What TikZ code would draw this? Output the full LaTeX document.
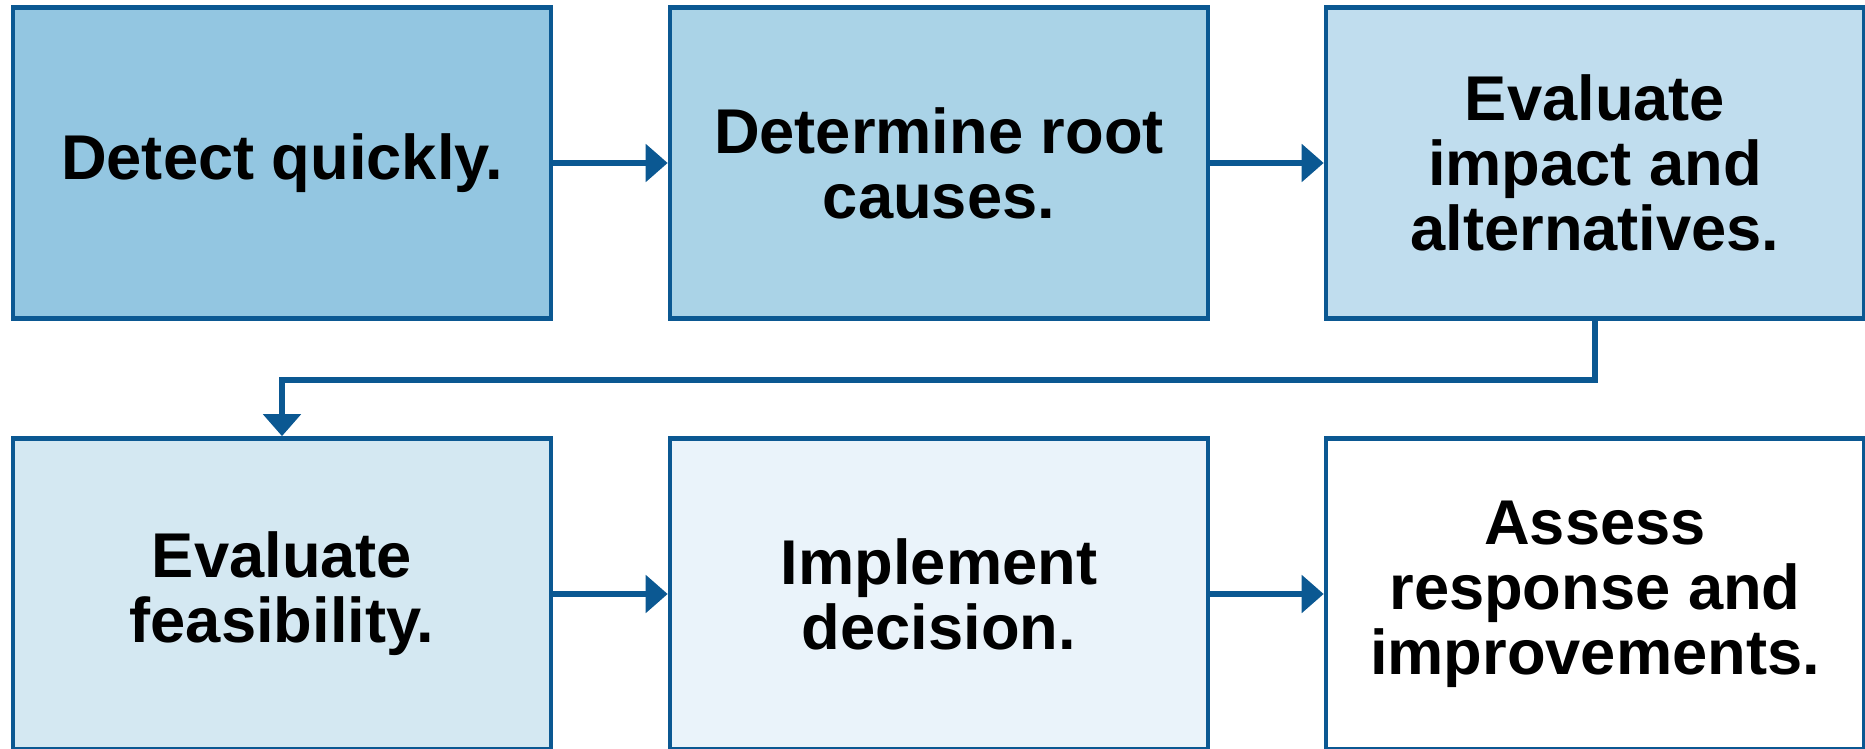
\documentclass[tikz,border=0pt]{standalone}
\usepackage{xcolor}
\usepackage{fontspec}
\setmainfont{Liberation Sans}
\usepackage{tikz}
\usetikzlibrary{arrows.meta, positioning, calc}

\definecolor{edgeblue}{HTML}{0B5892}
\definecolor{fillA}{HTML}{93C6E1}
\definecolor{fillB}{HTML}{AAD3E7}
\definecolor{fillC}{HTML}{C0DDEE}
\definecolor{fillD}{HTML}{D4E8F2}
\definecolor{fillE}{HTML}{EAF3FA}

\begin{document}
\begin{tikzpicture}[x=0.02cm, y=-0.02cm,
  every node/.style={rectangle, draw=edgeblue, line width=2.7pt, minimum width=10.76cm, minimum height=6.22cm, align=center, font=\fontsize{36}{37}\selectfont\bfseries},
  link/.style={-{Triangle[length=12.5pt, width=21pt]}, draw=edgeblue, line width=3.6pt}]
\useasboundingbox (0,0) rectangle (1865,749);
\node[fill=fillA] (detect) at (282,163) {Detect quickly.};
\node[fill=fillB] (cause) at (939,163) {Determine root\\causes.};
\node[fill=fillC] (impact) at (1595,163) {Evaluate\\impact and\\alternatives.};
\node[fill=fillD] (feas) at (282,594) {Evaluate\\feasibility.};
\node[fill=fillE] (impl) at (939,594) {Implement\\decision.};
\node[fill=white] (assess) at (1595,594) {Assess\\response and\\improvements.};

\draw[link] (detect) -- (cause);
\draw[link] (cause) -- (impact);
\draw[link] (impact.south) -- ++(0,59) -| (feas.north);
\draw[link] (feas) -- (impl);
\draw[link] (impl) -- (assess);
\end{tikzpicture}
\end{document}
